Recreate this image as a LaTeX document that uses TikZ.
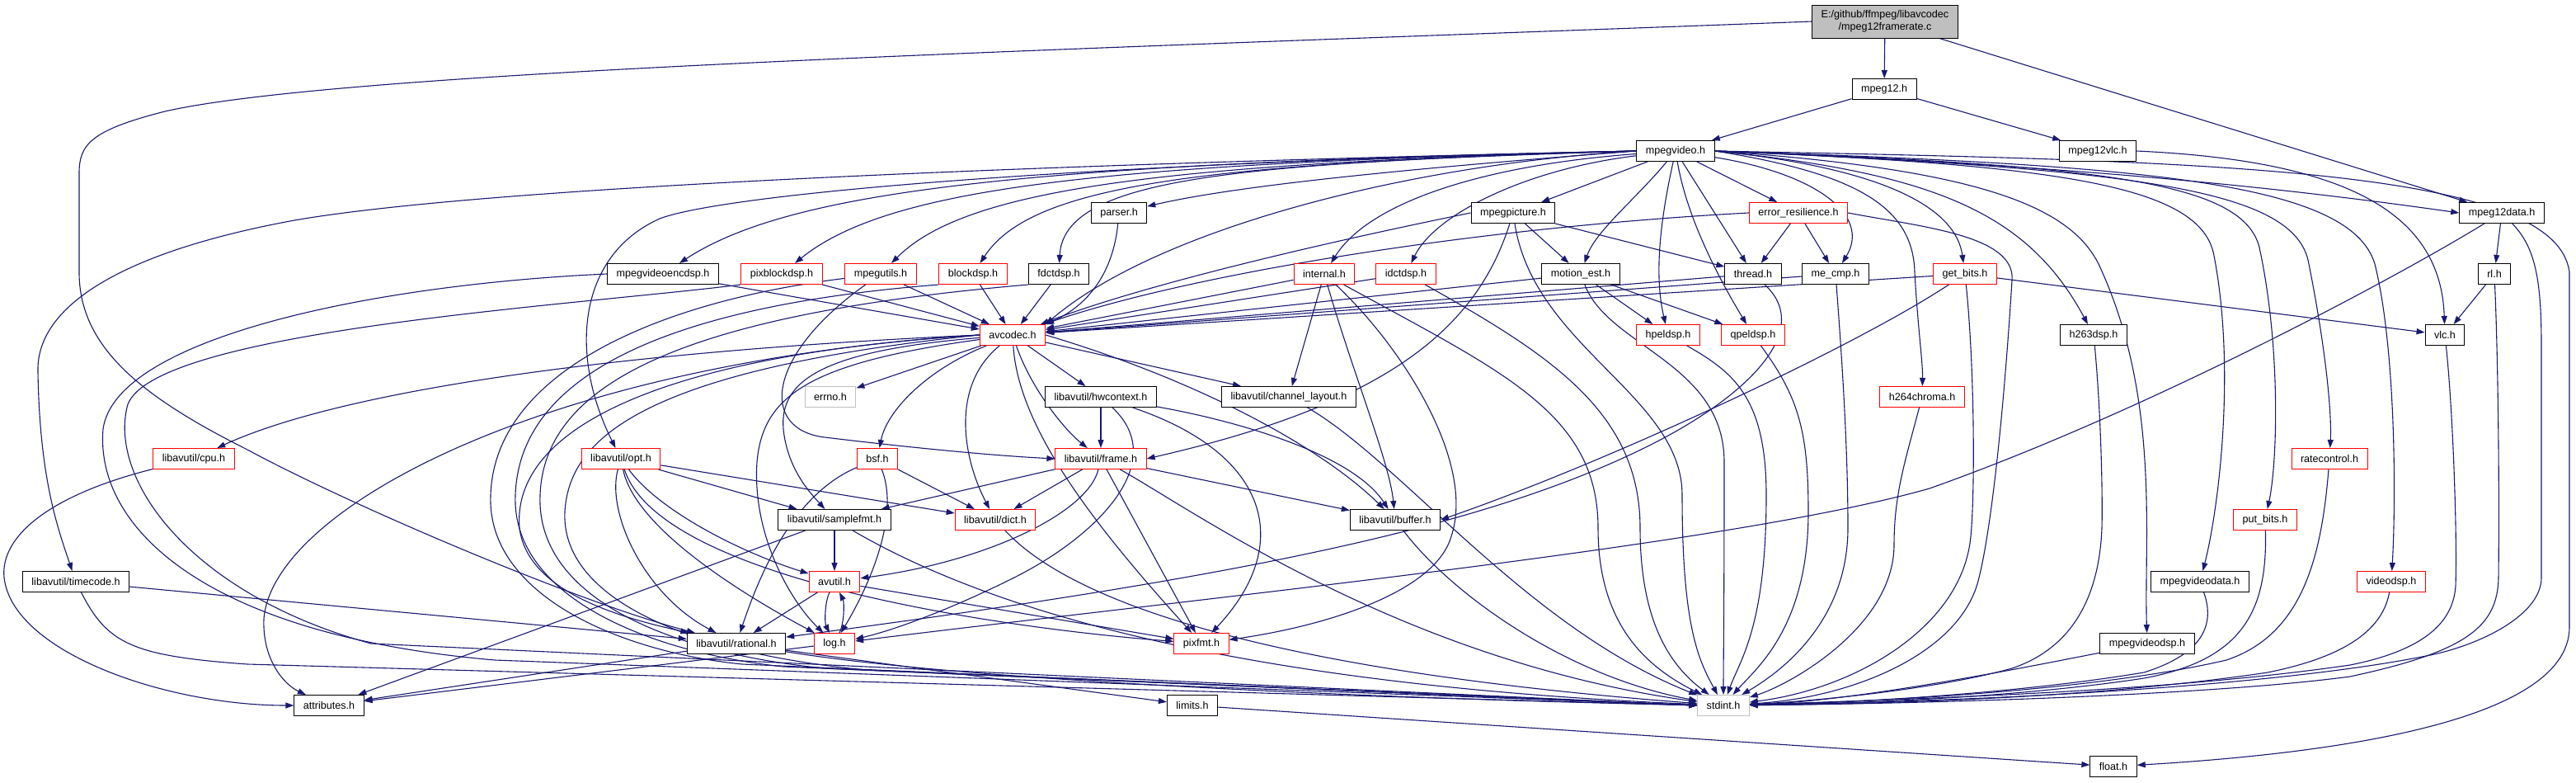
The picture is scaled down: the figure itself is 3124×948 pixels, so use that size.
\documentclass[tikz,border=0pt]{standalone}
\usepackage{fontspec}
\setmainfont{Liberation Sans}
\usetikzlibrary{arrows.meta}
\definecolor{mb}{RGB}{25,25,112}
\definecolor{gb}{RGB}{191,191,191}
\pgfdeclarelayer{bg}
\pgfsetlayers{bg,main}
\begin{document}
\begin{tikzpicture}[x=1pt,y=-1pt,
 nd/.style={draw=black,fill=white,line width=1pt,minimum height=25pt,inner xsep=11pt,inner ysep=0pt,font=\fontsize{12.6}{15}\selectfont},
 nr/.style={nd,draw=red},
 ng/.style={nd,draw=gb},
 ed/.style={draw=mb,line width=1.1pt,-{Triangle[length=10pt,width=7pt]}}]
\useasboundingbox (0,0) rectangle (3124,948);
% nodes
\node[nd,fill=gb,align=center,minimum height=40pt] (root) at (2286,26) {E:/github/ffmpeg/libavcodec\\/mpeg12framerate.c};
\node[nd] (mpeg12) at (2285,108) {mpeg12.h};
\node[nd] (mpegvideo) at (2032,183) {mpegvideo.h};
\node[nd] (mpeg12vlc) at (2544,183) {mpeg12vlc.h};
\node[nd] (parser) at (1357,258) {parser.h};
\node[nd] (mpegpicture) at (1835,258) {mpegpicture.h};
\node[nr] (errres) at (2181,258) {error\_resilience.h};
\node[nd] (mpeg12data) at (3034,258) {mpeg12data.h};
\node[nd] (encdsp) at (804,332) {mpegvideoencdsp.h};
\node[nr] (pixblock) at (948,332) {pixblockdsp.h};
\node[nr] (mpegutils) at (1068,332) {mpegutils.h};
\node[nr] (blockdsp) at (1180,332) {blockdsp.h};
\node[nd] (fdctdsp) at (1284,332) {fdctdsp.h};
\node[nr] (internal) at (1606,332) {internal.h};
\node[nr] (idctdsp) at (1705,332) {idctdsp.h};
\node[nd] (motionest) at (1917,332) {motion\_est.h};
\node[nd] (thread) at (2126,332) {thread.h};
\node[nd] (mecmp) at (2226,332) {me\_cmp.h};
\node[nr] (getbits) at (2383,332) {get\_bits.h};
\node[nd] (rl) at (3025,332) {rl.h};
\node[nr] (avcodec) at (1228,406) {avcodec.h};
\node[nr] (hpeldsp) at (2023,406) {hpeldsp.h};
\node[nr] (qpeldsp) at (2126,406) {qpeldsp.h};
\node[nd] (h263dsp) at (2539,406) {h263dsp.h};
\node[nd] (vlc) at (2965,406) {vlc.h};
\node[ng] (errno) at (1007,481) {errno.h};
\node[nd] (hwcontext) at (1335,481) {libavutil/hwcontext.h};
\node[nd] (chlayout) at (1563,481) {libavutil/channel\_layout.h};
\node[nr] (h264chroma) at (2331,481) {h264chroma.h};
\node[nr] (cpu) at (235,556) {libavutil/cpu.h};
\node[nr] (opt) at (753,556) {libavutil/opt.h};
\node[nr] (bsf) at (1064,556) {bsf.h};
\node[nr] (frame) at (1335,556) {libavutil/frame.h};
\node[nr] (ratecontrol) at (2825,556) {ratecontrol.h};
\node[nd] (samplefmt) at (1012,630) {libavutil/samplefmt.h};
\node[nr] (dict) at (1207,630) {libavutil/dict.h};
\node[nd] (buffer) at (1692,630) {libavutil/buffer.h};
\node[nr] (putbits) at (2747,630) {put\_bits.h};
\node[nd] (timecode) at (92,705) {libavutil/timecode.h};
\node[nr] (avutil) at (1012,705) {avutil.h};
\node[nd] (mvdata) at (2668,705) {mpegvideodata.h};
\node[nr] (videodsp) at (2900,705) {videodsp.h};
\node[nd] (rational) at (893,780) {libavutil/rational.h};
\node[nr] (log) at (1012,780) {log.h};
\node[nr] (pixfmt) at (1457,780) {pixfmt.h};
\node[nd] (mvdsp) at (2604,780) {mpegvideodsp.h};
\node[nd] (attributes) at (399,855) {attributes.h};
\node[nd] (limits) at (1446,855) {limits.h};
\node[ng] (stdint) at (2090,855) {stdint.h};
\node[nd] (float) at (2563,929) {float.h};
\begin{pgfonlayer}{bg}
\fill[white] (0,0) rectangle (3124,948);
% top edges
\draw[ed] (root) -- (mpeg12);
\draw[ed] (root) -- (mpeg12data);
\draw[ed] (root.west) .. controls (1300,60) and (420,85) .. (200,135) .. controls (110,158) and (96,175) .. (96,210) -- (96,330) .. controls (96,420) and (170,480) .. (300,545) .. controls (420,610) and (700,730) .. (rational);
\draw[ed] (mpeg12) -- (mpegvideo);
\draw[ed] (mpeg12) -- (mpeg12vlc);
\draw[ed] (mpeg12vlc.east) .. controls (2850,195) and (2960,260) .. (vlc);
\draw[ed] (mpeg12data) -- (rl);
\draw[ed] (mpeg12data) .. controls (3075,300) and (3082,340) .. (3082,420) -- (3082,700) .. controls (3082,745) and (3010,780) .. (2952,793) .. controls (2800,825) and (2500,848) .. (stdint);
\draw[ed] (mpeg12data) .. controls (2900,340) and (2600,500) .. (2340,592) .. controls (2100,660) and (1500,720) .. (log);
\draw[ed] (rl) -- (vlc);
\draw[ed] (rl) .. controls (3030,450) and (3031,600) .. (3030,700) .. controls (3029,760) and (2990,790) .. (2850,820) .. controls (2700,840) and (2400,852) .. (stdint);
\draw[ed] (vlc) .. controls (2975,500) and (2980,650) .. (2978,710) .. controls (2975,760) and (2930,790) .. (2850,806) .. controls (2650,835) and (2400,845) .. (stdint);
% mpegvideo fan right
\draw[ed] (mpegvideo.east) .. controls (2500,200) and (2750,225) .. (mpeg12data.west);
\draw[ed] (mpegvideo.east) .. controls (2700,195) and (3100,205) .. (3116,330) -- (3116,760) .. controls (3116,880) and (2800,915) .. (float);
\draw[ed] (mpegvideo.east) .. controls (2600,200) and (2850,220) .. (2880,320) .. controls (2905,420) and (2906,600) .. (videodsp);
\draw[ed] (mpegvideo.east) .. controls (2550,200) and (2720,220) .. (2740,300) .. controls (2766,420) and (2762,560) .. (putbits);
\draw[ed] (mpegvideo.east) .. controls (2600,205) and (2785,230) .. (2800,320) .. controls (2820,420) and (2828,500) .. (ratecontrol);
\draw[ed] (mpegvideo.east) .. controls (2500,200) and (2670,225) .. (2685,310) .. controls (2712,450) and (2690,620) .. (mvdata);
\draw[ed] (mpegvideo.east) .. controls (2400,205) and (2510,250) .. (2545,320) .. controls (2620,480) and (2600,650) .. (mvdsp);
\draw[ed] (mpegvideo.east) .. controls (2350,210) and (2460,260) .. (h263dsp);
\draw[ed] (mpegvideo.east) .. controls (2250,210) and (2320,250) .. (2322,330) .. controls (2326,400) and (2332,440) .. (h264chroma);
\draw[ed] (mpegvideo.east) .. controls (2250,200) and (2370,240) .. (getbits);
\draw[ed] (mpegvideo) .. controls (2200,210) and (2270,260) .. (mecmp);
\draw[ed] (mpegvideo) -- (thread);
\draw[ed] (mpegvideo) -- (errres);
\draw[ed] (mpegvideo) -- (mpegpicture);
\draw[ed] (mpegvideo) .. controls (1985,240) and (1935,280) .. (motionest);
\draw[ed] (mpegvideo) .. controls (2015,260) and (2005,330) .. (hpeldsp);
\draw[ed] (mpegvideo) .. controls (2045,260) and (2080,330) .. (qpeldsp);
% mpegvideo fan left
\draw[ed] (mpegvideo) .. controls (1850,205) and (1740,260) .. (idctdsp);
\draw[ed] (mpegvideo) .. controls (1800,200) and (1660,245) .. (internal);
\draw[ed] (mpegvideo.west) .. controls (1700,200) and (1400,280) .. (avcodec.north east);
\draw[ed] (mpegvideo.west) .. controls (1700,205) and (1500,225) .. (parser);
\draw[ed] (mpegvideo.west) .. controls (1500,198) and (1290,215) .. (fdctdsp);
\draw[ed] (mpegvideo.west) .. controls (1450,198) and (1250,225) .. (blockdsp);
\draw[ed] (mpegvideo.west) .. controls (1400,198) and (1170,230) .. (mpegutils);
\draw[ed] (mpegvideo.west) .. controls (1350,198) and (1080,225) .. (pixblock);
\draw[ed] (mpegvideo.west) .. controls (1250,198) and (960,230) .. (encdsp);
\draw[ed] (mpegvideo.west) .. controls (1300,198) and (880,235) .. (800,265) .. controls (700,310) and (690,430) .. (opt);
\draw[ed] (mpegvideo.west) .. controls (1300,198) and (600,225) .. (357,267) .. controls (150,305) and (44,370) .. (46,450) .. controls (48,580) and (70,640) .. (timecode);
% row 4 into avcodec
\draw[ed] (encdsp) -- (avcodec);
\draw[ed] (pixblock) -- (avcodec);
\draw[ed] (mpegutils) -- (avcodec);
\draw[ed] (blockdsp) -- (avcodec);
\draw[ed] (fdctdsp) -- (avcodec);
\draw[ed] (parser) .. controls (1350,330) and (1320,370) .. (avcodec.north east);
\draw[ed] (mpegpicture.west) .. controls (1650,285) and (1400,340) .. (avcodec);
\draw[ed] (errres.west) .. controls (1800,275) and (1450,330) .. (avcodec);
\draw[ed] (internal) -- (avcodec);
\draw[ed] (idctdsp) -- (avcodec);
\draw[ed] (motionest) -- (avcodec);
\draw[ed] (thread) -- (avcodec);
\draw[ed] (mecmp) -- (avcodec);
\draw[ed] (getbits) -- (avcodec);
% other row 3/4 edges
\draw[ed] (mpegpicture) -- (motionest);
\draw[ed] (mpegpicture) -- (thread);
\draw[ed] (mpegpicture) .. controls (1790,400) and (1680,490) .. (frame.east);
\draw[ed] (errres) -- (thread);
\draw[ed] (errres) -- (mecmp);
\draw[ed] (motionest) -- (hpeldsp);
\draw[ed] (motionest) -- (qpeldsp);
\draw[ed] (getbits) -- (vlc);
\draw[ed] (getbits) .. controls (2250,420) and (1950,560) .. (buffer.east);
\draw[ed] (thread) .. controls (2200,400) and (2120,480) .. (2000,540) .. controls (1800,640) and (1500,700) .. (rational);
\draw[ed] (mpegutils) .. controls (930,430) and (920,520) .. (1000,530) .. controls (1100,542) and (1200,552) .. (frame.west);
\draw[ed] (internal) -- (chlayout);
\draw[ed] (internal) .. controls (1640,450) and (1685,560) .. (buffer);
\draw[ed] (internal) .. controls (1700,420) and (1790,560) .. (1760,650) .. controls (1740,720) and (1600,760) .. (pixfmt);
% avcodec outgoing
\draw[ed] (avcodec) -- (errno);
\draw[ed] (avcodec) .. controls (1120,450) and (1075,500) .. (bsf);
\draw[ed] (avcodec) -- (hwcontext);
\draw[ed] (avcodec) -- (chlayout);
\draw[ed] (avcodec) .. controls (1250,470) and (1290,520) .. (frame);
\draw[ed] (avcodec) .. controls (1150,470) and (1170,560) .. (dict);
\draw[ed] (avcodec) .. controls (1000,425) and (945,460) .. (950,520) .. controls (955,570) and (985,600) .. (samplefmt);
\draw[ed] (avcodec.east) .. controls (1450,460) and (1600,540) .. (buffer);
\draw[ed] (avcodec) .. controls (1235,520) and (1330,640) .. (pixfmt);
\draw[ed] (avcodec) .. controls (980,440) and (925,480) .. (918,560) .. controls (912,650) and (960,730) .. (log);
\draw[ed] (avcodec.west) .. controls (800,430) and (620,520) .. (630,640) .. controls (640,720) and (760,750) .. (rational);
\draw[ed] (avcodec.west) .. controls (700,428) and (400,480) .. (cpu);
\draw[ed] (avcodec.west) .. controls (650,440) and (330,620) .. (320,750) .. controls (318,800) and (345,830) .. (attributes);
% libavutil layer
\draw[ed] (hwcontext) -- (frame);
\draw[ed] (hwcontext) .. controls (1420,560) and (1330,650) .. (1230,700) .. controls (1150,740) and (1080,765) .. (log);
\draw[ed] (hwcontext) .. controls (1500,510) and (1640,550) .. (buffer);
\draw[ed] (hwcontext) .. controls (1540,550) and (1570,660) .. (pixfmt);
\draw[ed] (frame) -- (samplefmt);
\draw[ed] (frame) -- (dict);
\draw[ed] (frame) .. controls (1320,620) and (1200,680) .. (avutil);
\draw[ed] (frame) -- (pixfmt);
\draw[ed] (frame) -- (buffer);
\draw[ed] (opt) -- (samplefmt);
\draw[ed] (opt) -- (dict);
\draw[ed] (opt) .. controls (800,620) and (900,670) .. (avutil);
\draw[ed] (opt) .. controls (770,640) and (900,720) .. (log);
\draw[ed] (opt) .. controls (735,620) and (780,720) .. (rational);
\draw[ed] (opt) .. controls (800,700) and (1200,760) .. (pixfmt);
\draw[ed] (bsf) -- (dict);
\draw[ed] (bsf) .. controls (960,600) and (920,700) .. (rational);
\draw[ed] (bsf) .. controls (1090,620) and (1060,700) .. (log);
\draw[ed] (samplefmt) -- (avutil);
\draw[ed] (samplefmt) -- (attributes);
\draw[ed] ([xshift=-6pt]avutil.south) .. controls (1000,730) and (1000,755) .. ([xshift=-6pt]log.north);
\draw[ed] ([xshift=6pt]log.north) .. controls (1024,755) and (1024,730) .. ([xshift=6pt]avutil.south);
\draw[ed] (avutil) -- (rational);
\draw[ed] (avutil) -- (pixfmt);
\draw[ed] (log) -- (attributes);
\draw[ed] (rational) -- (attributes);
\draw[ed] (rational) -- (limits);
\draw[ed] (limits) -- (float);
\draw[ed] (cpu) .. controls (60,600) and (0,650) .. (5,700) .. controls (15,790) and (200,855) .. (attributes);
\draw[ed] (timecode) -- (rational);
% into stdint from left
\draw[ed] (encdsp.west) .. controls (450,345) and (140,410) .. (125,520) .. controls (115,640) and (250,770) .. (600,800) -- (stdint.west);
\draw[ed] (pixblock.south west) .. controls (700,370) and (190,400) .. (155,490) .. controls (130,580) and (230,720) .. (450,780) -- (stdint.west);
\draw[ed] (mpegutils) .. controls (800,365) and (600,450) .. (595,600) .. controls (590,720) and (750,790) .. (900,805) -- (stdint.west);
\draw[ed] (blockdsp.south west) .. controls (820,370) and (630,450) .. (625,600) .. controls (620,720) and (780,790) .. (950,808) -- (stdint.west);
\draw[ed] (fdctdsp.south west) .. controls (840,380) and (660,460) .. (655,600) .. controls (650,720) and (800,790) .. (1000,810) -- (stdint.west);
\draw[ed] (avcodec.west) .. controls (760,450) and (690,540) .. (685,620) .. controls (680,720) and (820,790) .. (1050,812) -- (stdint.west);
\draw[ed] (timecode) .. controls (130,780) and (160,795) .. (300,805) -- (stdint.west);
\draw[ed] (rational) .. controls (1200,830) and (1800,850) .. (stdint);
\draw[ed] (samplefmt) .. controls (1200,740) and (1500,830) .. (stdint);
\draw[ed] (dict) .. controls (1290,720) and (1500,810) .. (stdint);
\draw[ed] (frame) .. controls (1450,620) and (1700,800) .. (stdint);
\draw[ed] (buffer) .. controls (1760,720) and (1900,820) .. (stdint);
\draw[ed] (chlayout) .. controls (1700,560) and (1850,760) .. (stdint);
% into stdint from above
\draw[ed] (internal) .. controls (1820,450) and (1938,500) .. (1938,640) .. controls (1938,760) and (2000,810) .. (stdint);
\draw[ed] (idctdsp) .. controls (1880,430) and (1989,500) .. (1989,640) .. controls (1989,760) and (2030,810) .. (stdint);
\draw[ed] (mpegpicture) .. controls (1860,420) and (2040,480) .. (2040,600) .. controls (2040,760) and (2060,800) .. (stdint);
\draw[ed] (motionest) .. controls (1950,420) and (2091,440) .. (2091,560) .. controls (2091,740) and (2090,800) .. (stdint);
\draw[ed] (hpeldsp) .. controls (2100,450) and (2142,480) .. (2142,600) .. controls (2142,760) and (2110,800) .. (stdint);
\draw[ed] (qpeldsp) .. controls (2180,480) and (2193,520) .. (2193,620) .. controls (2193,760) and (2130,810) .. (stdint);
\draw[ed] (mecmp) .. controls (2235,450) and (2241,550) .. (2241,640) .. controls (2241,760) and (2150,820) .. (stdint);
\draw[ed] (h264chroma) .. controls (2310,560) and (2297,600) .. (2297,660) .. controls (2297,760) and (2170,830) .. (stdint);
% into stdint from right
\draw[ed] (getbits) .. controls (2395,450) and (2395,600) .. (2390,650) .. controls (2380,760) and (2250,835) .. (stdint);
\draw[ed] (errres.east) .. controls (2330,275) and (2445,285) .. (2440,340) .. controls (2430,500) and (2415,640) .. (2400,700) .. controls (2380,790) and (2250,845) .. (stdint);
\draw[ed] (h263dsp) .. controls (2548,500) and (2550,600) .. (2549,640) .. controls (2545,740) and (2500,790) .. (2440,810) .. controls (2350,835) and (2200,850) .. (stdint);
\draw[ed] (mvdsp) .. controls (2450,810) and (2250,850) .. (stdint);
\draw[ed] (mvdata) .. controls (2684,750) and (2680,790) .. (2600,815) .. controls (2450,840) and (2250,852) .. (stdint);
\draw[ed] (putbits) .. controls (2750,740) and (2720,800) .. (2600,822) .. controls (2450,845) and (2250,853) .. (stdint);
\draw[ed] (ratecontrol) .. controls (2815,680) and (2790,770) .. (2700,800) .. controls (2550,835) and (2300,850) .. (stdint);
\draw[ed] (videodsp) .. controls (2890,760) and (2850,795) .. (2750,815) .. controls (2550,845) and (2300,853) .. (stdint);
\end{pgfonlayer}
\end{tikzpicture}
\end{document}
